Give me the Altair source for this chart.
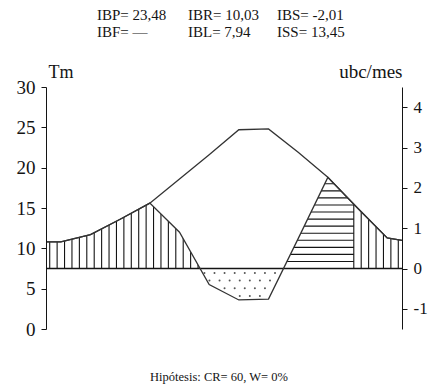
import altair as alt
import pandas as pd
import numpy as np

# ---------------- data ----------------
months = ["E", "F", "M", "A", "M", "J", "J", "A", "S", "O", "N", "D"]
tm = [10.8, 11.7, 13.6, 15.6, 18.6, 21.6, 24.7, 24.8, 21.9, 18.8, 15.0, 11.3]   # Tm curve
bc = [10.8, 11.7, 13.6, 15.6, 12.0, 5.5, 3.6, 3.7, 11.2, 18.8, 15.0, 11.3]      # bioclimatic curve (Tm units)
edge_vals = [10.8, 11.0]          # values at the left/right edges of the year
base_tm = 7.5                     # Tm equivalent to 0 ubc
tm_per_ubc = 5.0
tm_ticks = [0, 5, 10, 15, 20, 25, 30]
ubc_ticks = [-1, 0, 1, 2, 3, 4]
stats_row1 = ["IBP= 23,48", "IBR= 10,03", "IBS= -2,01"]
stats_row2 = ["IBF=  \u2014", "IBL= 7,94", "ISS= 13,45"]
footnote = "Hip\u00f3tesis: CR= 60,  W= 0%"

# ---------------- tables ----------------
pos = [0.0] + [i + 0.5 for i in range(12)] + [12.0]
bc_full = [edge_vals[0]] + bc + [edge_vals[1]]
curve = pd.DataFrame({
    "pos": pos,
    "tm": [edge_vals[0]] + tm + [edge_vals[1]],
    "bc": bc_full,
    "top": 30.0,
})

# decorative hatch geometry (regular spacing, masked by the curve)
vx = np.arange(0.125, 12.0, 0.25)
vx = vx[(vx < 8.0) | (vx > 10.3)]
vrules = pd.DataFrame({"x": vx, "y": base_tm, "y2": 30.0})
hy = base_tm + 0.875 * np.arange(1, 14)
hrules = pd.DataFrame({"y": hy, "x": 8.0, "x2": 10.375})
drows = []
for r, yy in enumerate(np.arange(base_tm - 0.55, 3.0, -0.95)):
    off = 0.0 if r % 2 == 0 else 0.17
    for xx in np.arange(5.0 + off, 8.5, 0.34):
        # keep only dots lying inside the dry (below-zero) pocket
        if yy > np.interp(xx, pos, bc_full) + 0.35:
            drows.append({"dx": xx, "dy": yy})
dots = pd.DataFrame(drows)
baseline = pd.DataFrame({"x": [0.0], "x2": [12.0], "y": [base_tm]})

SERIF = "Times New Roman, Liberation Serif, DejaVu Serif, serif"
INK = "#141414"

xscale = alt.Scale(domain=[0, 12], nice=False, zero=False)
yscale = alt.Scale(domain=[0, 30], nice=False, zero=False)

month_js = "[" + ",".join("'%s'" % m for m in months) + "]"
x_axis = alt.Axis(
    values=[i * 0.5 for i in range(25)],
    labelExpr="(datum.value % 1 == 0.5) ? " + month_js + "[floor(datum.value)] : ''",
    title=None, grid=False, tickSize=4, tickColor=INK, domainColor=INK,
    labelFont=SERIF, labelFontSize=17, labelFontWeight="bold", labelColor=INK,
    labelPadding=7, labelOverlap=False, labelFlush=False, labelBound=False, zindex=1,
)
left_axis = alt.Axis(
    values=tm_ticks, title="Tm", titleAngle=0, titleAlign="left",
    titleBaseline="alphabetic", titleX=2, titleY=-10, titleFont=SERIF,
    titleFontSize=18, titleFontWeight="normal", titleColor=INK,
    labelFont=SERIF, labelFontSize=19, labelColor=INK, labelPadding=6,
    tickSize=5, tickColor=INK, domainColor=INK, grid=False, zindex=1,
)
right_axis = alt.Axis(
    orient="right", values=[base_tm + tm_per_ubc * u for u in ubc_ticks],
    labelExpr="'' + round((datum.value - %s) / %s)" % (base_tm, tm_per_ubc),
    title="ubc/mes", titleAngle=0, titleAlign="right", titleBaseline="alphabetic",
    titleX=0, titleY=-10, titleFont=SERIF, titleFontSize=19,
    titleFontWeight="normal", titleColor=INK,
    labelFont=SERIF, labelFontSize=17, labelColor=INK, labelPadding=6,
    tickSize=5, tickColor=INK, domainColor=INK, grid=False, zindex=1,
)

dots_l = alt.Chart(dots).mark_point(shape="circle", filled=True, size=4,
                                    color="#555", opacity=1).encode(
    x=alt.X("dx:Q", scale=xscale, axis=None),
    y=alt.Y("dy:Q", scale=yscale, axis=None),
)
vrule_l = alt.Chart(vrules).mark_rule(color=INK, strokeWidth=1.1).encode(
    x=alt.X("x:Q", scale=xscale, axis=None),
    y=alt.Y("y:Q", scale=yscale, axis=None),
    y2="y2:Q",
)
hrule_l = alt.Chart(hrules).mark_rule(color=INK, strokeWidth=1.1).encode(
    x=alt.X("x:Q", scale=xscale, axis=None),
    x2="x2:Q",
    y=alt.Y("y:Q", scale=yscale, axis=None),
)
upper_mask = alt.Chart(curve).mark_area(color="white", opacity=1).encode(
    x=alt.X("pos:Q", scale=xscale, axis=None),
    y=alt.Y("bc:Q", scale=yscale, axis=None, stack=None),
    y2="top:Q",
)
base_l = alt.Chart(baseline).mark_rule(color=INK, strokeWidth=1.4).encode(
    x=alt.X("x:Q", scale=xscale, axis=None),
    x2="x2:Q",
    y=alt.Y("y:Q", scale=yscale, axis=right_axis),
)
tm_l = alt.Chart(curve).mark_line(color="#333", strokeWidth=1.3).encode(
    x=alt.X("pos:Q", scale=xscale, axis=x_axis),
    y=alt.Y("tm:Q", scale=yscale, axis=left_axis),
)
bc_l = alt.Chart(curve).mark_line(color="#333", strokeWidth=1.3).encode(
    x=alt.X("pos:Q", scale=xscale, axis=None),
    y=alt.Y("bc:Q", scale=yscale, axis=None),
)

texts = []
col_x = [51, 142, 231]
for i, s in enumerate(stats_row1):
    texts.append(alt.Chart(baseline).mark_text(
        font=SERIF, fontSize=15, align="left", baseline="alphabetic", color=INK
    ).encode(x=alt.value(col_x[i]), y=alt.value(-67), text=alt.value(s)))
for i, s in enumerate(stats_row2):
    texts.append(alt.Chart(baseline).mark_text(
        font=SERIF, fontSize=15, align="left", baseline="alphabetic", color=INK
    ).encode(x=alt.value(col_x[i]), y=alt.value(-50), text=alt.value(s)))
texts.append(alt.Chart(baseline).mark_text(
    font=SERIF, fontSize=12.5, align="center", baseline="alphabetic", color=INK
).encode(x=alt.value(173), y=alt.value(294), text=alt.value(footnote)))

chart = alt.layer(
    vrule_l, hrule_l, upper_mask, dots_l, base_l, tm_l, bc_l, *texts
).resolve_axis(y="independent").properties(
    width=356, height=242,
    autosize=alt.AutoSizeParams(type="none"),
    padding={"left": 46, "top": 87, "right": 27, "bottom": 59},
    background="white",
).configure_view(stroke=None)

chart.save("out.html", embed_options={"renderer": "svg", "actions": False})
